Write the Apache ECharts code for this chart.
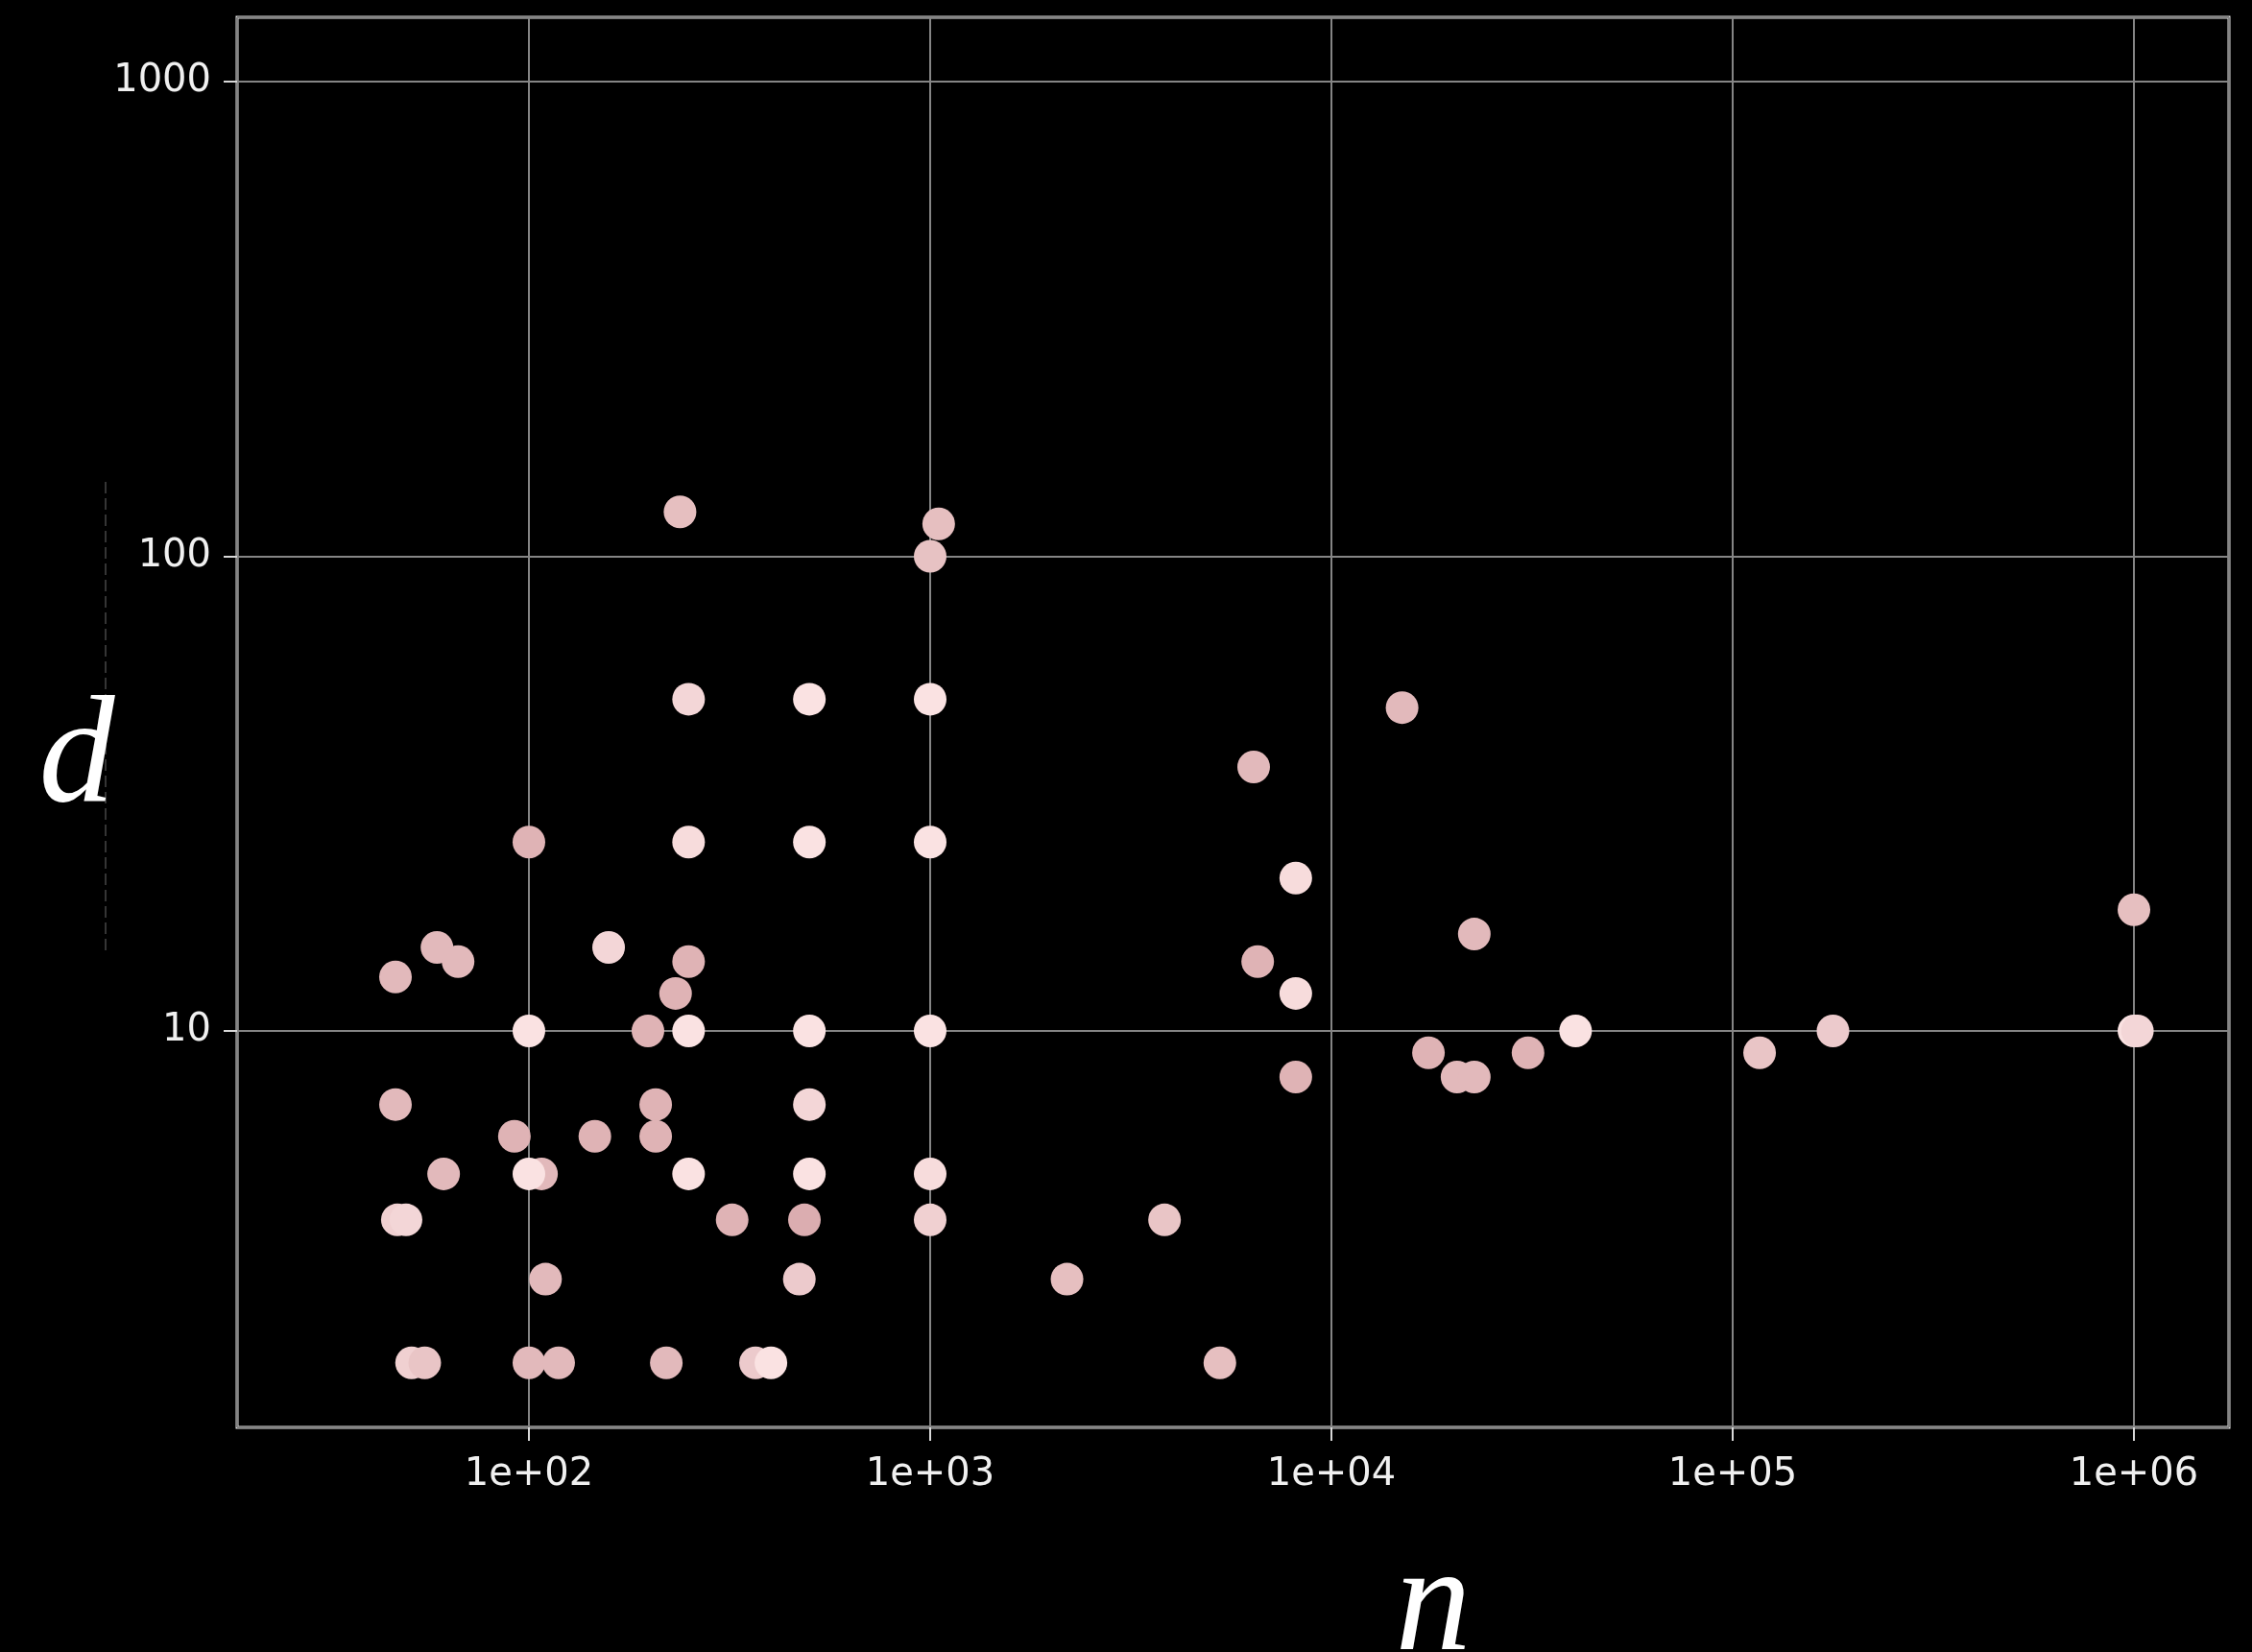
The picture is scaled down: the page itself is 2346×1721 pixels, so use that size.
<!DOCTYPE html>
<html>
<head>
<meta charset="utf-8">
<title>d vs n</title>
<style>
  html, body { margin: 0; padding: 0; background: #000; }
  #chart { width: 2346px; height: 1721px; }
</style>
<script src="https://cdn.jsdelivr.net/npm/echarts@6/dist/echarts.min.js"></script>
</head>
<body>
<div id="chart"></div>
<script>
// Sample size n, dimension d, and a 0..1 shade used for the point colour.
const nValues = [
  238, 1050, 1000, 250, 500, 1000, 15000, 6400,
  100, 250, 500, 1000, 8150, 1000000,
  59, 158, 22700, 66.6, 250, 6550, 46.5, 232, 8150,
  198, 100, 250, 500, 1000, 40600, 177800, 1000000, 1020000,
  17450, 30900, 116700, 8150, 20560, 22700,
  46.5, 207, 500, 92, 146, 207,
  61.3, 107.5, 100, 250, 500, 1000,
  47, 49.4, 321, 486, 1000, 3838,
  110, 472, 2193,
  51, 55, 100, 118.6, 220, 367, 401, 5272
];
const dValues = [
  124, 117, 100, 50, 50, 50, 48, 36,
  25, 25, 25, 25, 21, 18,
  15, 15, 16, 14, 14, 14, 13, 12, 12,
  10, 10, 10, 10, 10, 10, 10, 10, 10,
  9, 9, 9, 8, 8, 8,
  7, 7, 7, 6, 6, 6,
  5, 5, 5, 5, 5, 5,
  4, 4, 4, 4, 4, 4,
  3, 3, 3,
  2, 2, 2, 2, 2, 2, 2, 2
];
const shadeValues = [
  0.4, 0.4, 0.45, 0.8, 1, 1, 0.3, 0.3,
  0.2, 0.9, 1, 1, 0.9, 0.4,
  0.3, 0.8, 0.3, 0.3, 0.2, 0.2, 0.3, 0.2, 0.9,
  0.2, 1, 1, 1, 1, 1, 0.6, 1, 0.8,
  0.2, 0.2, 0.5, 0.2, 0.3, 0.3,
  0.3, 0.2, 0.8, 0.2, 0.2, 0.2,
  0.3, 0.3, 1, 1, 1, 0.9,
  0.7, 0.8, 0.2, 0.1, 0.7, 0.5,
  0.3, 0.6, 0.4,
  0.7, 0.5, 0.3, 0.3, 0.3, 0.6, 1, 0.4
];

// Labels for the decade ticks, indexed by power of ten.
const xTickLabels = { 2: '1e+02', 3: '1e+03', 4: '1e+04', 5: '1e+05', 6: '1e+06' };
const yTickLabels = { 1: '10', 2: '100', 3: '1000' };

// Axis extents in data units.
const xMin = 18.74, xMax = 1725000;
const yMin = 1.462, yMax = 1366;

function decadeOf(v) {
  const e = Math.log10(v);
  const r = Math.round(e);
  return Math.abs(e - r) < 1e-6 ? r : null;
}

const points = nValues.map((n, i) => [n, dValues[i], shadeValues[i]]);

const labelStyle = {
  color: '#f0f0f0',
  fontFamily: '"DejaVu Sans", Verdana, sans-serif',
  fontSize: 40
};

const chart = echarts.init(document.getElementById('chart'), null, { renderer: 'canvas' });

chart.setOption({
  backgroundColor: '#000',
  animation: false,
  grid: {
    left: 247, right: 24, top: 18, bottom: 234,
    show: true,
    borderColor: '#e2e2e2',
    borderWidth: 3,
    backgroundColor: 'transparent'
  },
  xAxis: {
    type: 'log',
    logBase: 10,
    min: xMin,
    max: xMax,
    axisLine: { show: false },
    axisTick: { show: true, length: 14, lineStyle: { color: '#d8d8d8', width: 2 } },
    splitLine: { show: true, lineStyle: { color: '#858585', width: 2 } },
    minorTick: { show: false },
    axisLabel: Object.assign({}, labelStyle, {
      margin: 30,
      showMinLabel: false,
      showMaxLabel: false,
      formatter: v => { const e = decadeOf(v); return e === null ? '' : (xTickLabels[e] || ''); }
    })
  },
  yAxis: {
    type: 'log',
    logBase: 10,
    min: yMin,
    max: yMax,
    axisLine: { show: false },
    axisTick: { show: true, length: 14, lineStyle: { color: '#d8d8d8', width: 2 } },
    splitLine: { show: true, lineStyle: { color: '#858585', width: 2 } },
    axisLabel: Object.assign({}, labelStyle, {
      margin: 27,
      showMinLabel: false,
      showMaxLabel: false,
      formatter: v => { const e = decadeOf(v); return e === null ? '' : (yTickLabels[e] || ''); }
    })
  },
  visualMap: {
    show: false,
    type: 'continuous',
    dimension: 2,
    min: 0,
    max: 1,
    seriesIndex: 0,
    inRange: { color: ['#d8a7aa', '#fae2e2'] }
  },
  series: [{
    type: 'scatter',
    data: points,
    symbol: 'circle',
    symbolSize: 34,
    itemStyle: { opacity: 1 },
    emphasis: { disabled: true }
  }],
  graphic: [
    {
      type: 'line',
      shape: { x1: 110, y1: 502, x2: 110, y2: 995 },
      style: { stroke: '#6a6a6a', lineWidth: 1, lineDash: [12, 5] },
      silent: true
    },
    {
      type: 'text',
      x: 80, y: 792,
      style: {
        text: 'd',
        font: 'italic 158px "Liberation Serif", "DejaVu Serif", serif',
        fill: '#ffffff',
        textAlign: 'center',
        textVerticalAlign: 'middle'
      },
      silent: true
    },
    {
      type: 'text',
      x: 1493, y: 1676,
      style: {
        text: 'n',
        font: 'italic 158px "Liberation Serif", "DejaVu Serif", serif',
        fill: '#ffffff',
        textAlign: 'center',
        textVerticalAlign: 'middle'
      },
      silent: true
    }
  ]
});
</script>
</body>
</html>
